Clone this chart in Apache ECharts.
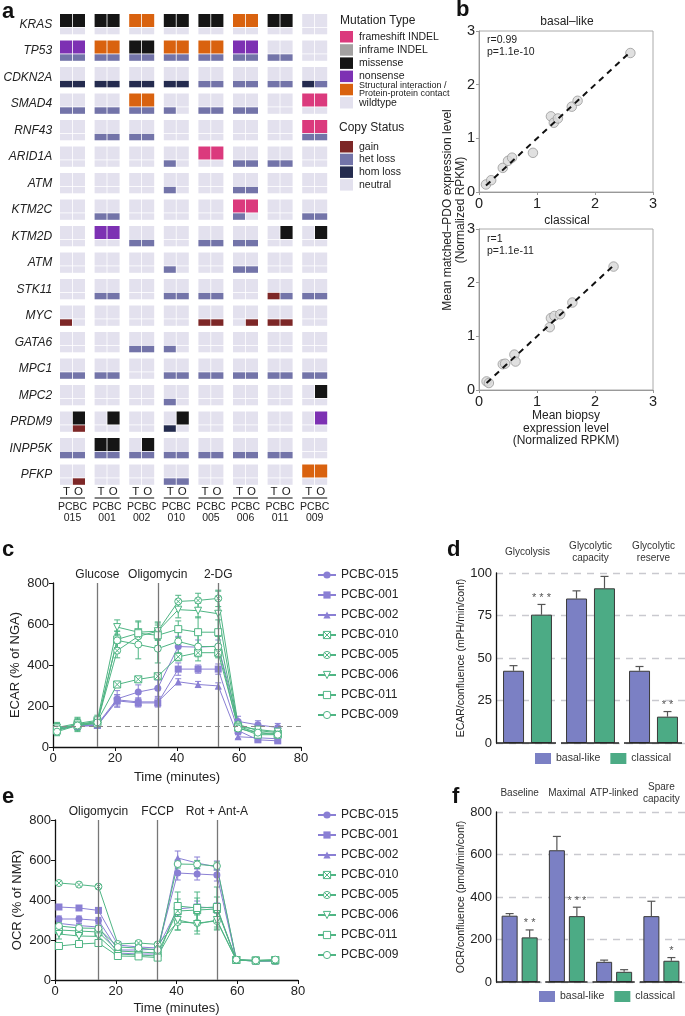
<!DOCTYPE html>
<html><head><meta charset="utf-8">
<script src="https://cdn.jsdelivr.net/npm/echarts@6/dist/echarts.min.js"></script>
<style>html,body{margin:0;padding:0;background:#fff}#c{width:685px;height:1016px}</style>
</head><body><div id="c"></div><script>
const FONT = 'Liberation Sans, Arial, Helvetica, sans-serif';

// ---------- panel a ----------
const genes = ['KRAS','TP53','CDKN2A','SMAD4','RNF43','ARID1A','ATM','KTM2C','KTM2D','ATM','STK11','MYC','GATA6','MPC1','MPC2','PRDM9','INPP5K','PFKP'];
const samples = ['015','001','002','010','005','006','011','009'];
// 16 chars per gene: T,O for each sample. F frameshift, I inframe, M missense, N nonsense, S structural, . wildtype
const mutRows = [
  'MMMMSSMMMMSSMM..',
  'NNSSMMSSSSNN....',
  '................',
  '....SS........FF',
  '..............FF',
  '........FF......',
  '................',
  '..........FF....',
  '..NN.........M.M',
  '................',
  '................',
  '................',
  '................',
  '................',
  '...............M',
  '.M.M...M.......N',
  '..MM.M..........',
  '..............SS'
];
// g gain, h het loss, H hom loss, . neutral
const copyRows = [
  '................',
  'hhhhhhhhhhhhhh..',
  'HHHHHHHHhhhhhhHh',
  'hhhhhhh.hhhh....',
  '..hhhh........hh',
  '......h...hhhh..',
  '......h...hh....',
  '..hh......h...hh',
  '....hh..hhhh....',
  '......h...hh....',
  '..hh..hhhh..ghhh',
  'g.......gg.ggg..',
  '....hhh.........',
  'hhhh..hhhhhhhhhh',
  '......h.........',
  '.g....H.........',
  'hhhhhhhhhhhhhh..',
  '.g....hh........'
];
const mutLegend = ['frameshift INDEL','inframe INDEL','missense','nonsense','Structural interaction /\nProtein-protein contact','wildtype'];
const copyLegend = ['gain','het loss','hom loss','neutral'];

// ---------- panel b ----------
const basalX = [0.12,0.21,0.41,0.50,0.57,0.93,1.24,1.29,1.36,1.60,1.70,2.61];
const basalY = [0.14,0.22,0.45,0.58,0.64,0.73,1.41,1.29,1.37,1.59,1.70,2.59];
const classX = [0.13,0.17,0.41,0.45,0.61,0.63,1.22,1.24,1.30,1.40,1.61,2.32];
const classY = [0.16,0.13,0.48,0.49,0.66,0.53,1.17,1.34,1.38,1.41,1.63,2.30];
const basalFit = [0.12, 2.6];
const classFit = [0.13, 2.32];

// ---------- panels c & e ----------
const time = [1.3, 7.9, 14.3, 20.7, 27.5, 33.8, 40.4, 46.8, 53.3, 59.7, 66.1, 72.5];
const lines = ['PCBC-015','PCBC-001','PCBC-002','PCBC-010','PCBC-005','PCBC-006','PCBC-011','PCBC-009'];
const ecar015 = [85,105,110,235,268,287,490,487,492,125,108,95];
const ecar001 = [85,105,105,225,215,215,380,380,380,80,35,30];
const ecar002 = [95,100,105,230,220,220,318,305,298,50,45,40];
const ecar010 = [80,110,125,305,330,345,440,460,460,100,70,65];
const ecar005 = [90,110,120,470,540,565,710,715,725,110,80,70];
const ecar006 = [95,115,130,585,560,565,670,665,650,100,85,75];
const ecar011 = [85,105,115,525,555,545,575,560,560,95,60,60];
const ecar009 = [75,105,120,520,500,480,515,490,490,90,70,60];
const ecarErr015 = [15,20,15,40,35,40,50,35,30,25,20,20];
const ecarErr001 = [10,15,10,30,20,20,30,20,25,20,10,10];
const ecarErr002 = [10,10,10,25,20,20,15,15,15,10,10,10];
const ecarErr010 = [20,25,20,15,15,15,20,20,25,15,10,10];
const ecarErr005 = [30,35,25,35,30,40,30,35,40,20,20,15];
const ecarErr006 = [20,25,25,35,55,45,40,35,110,25,20,15];
const ecarErr011 = [15,20,20,40,55,50,40,75,60,20,15,15];
const ecarErr009 = [20,25,20,45,70,70,60,70,50,20,15,15];
const ecarEvents = [14.3, 33.8, 53.3];
const ecarEventLabels = ['Glucose','Oligomycin','2-DG'];
const ecarBaseline = 100;

const ocr015 = [305,305,298,150,150,155,535,530,525,100,95,95];
const ocr001 = [365,360,348,175,165,160,355,365,360,100,97,97];
const ocr002 = [283,272,265,135,130,130,610,585,565,100,95,95];
const ocr010 = [250,245,240,145,140,135,345,350,355,100,98,98];
const ocr005 = [485,477,467,180,185,178,290,285,295,100,95,95];
const ocr006 = [230,220,218,130,125,120,300,280,300,100,95,98];
const ocr011 = [170,180,185,120,118,112,370,360,365,100,97,100];
const ocr009 = [270,260,258,165,160,150,580,578,570,102,98,102];
const ocrErr015 = [15,15,15,10,10,10,35,30,30,5,5,5];
const ocrErr001 = [10,10,10,10,10,10,30,30,25,5,5,5];
const ocrErr002 = [10,10,10,10,10,10,35,30,30,5,5,5];
const ocrErr010 = [20,20,20,10,10,10,60,60,60,5,5,5];
const ocrErr005 = [10,10,10,10,10,10,40,40,40,5,5,5];
const ocrErr006 = [25,25,25,10,10,10,50,50,50,5,5,5];
const ocrErr011 = [15,15,15,10,10,10,70,80,100,5,5,5];
const ocrErr009 = [15,15,15,10,10,10,20,20,20,5,5,5];
const ocrEvents = [14.3, 33.8, 53.3];
const ocrEventLabels = ['Oligomycin','FCCP','Rot + Ant-A'];

// ---------- panels d & f ----------
const groupsD = ['Glycolysis','Glycolytic\ncapacity','Glycolytic\nreserve'];
const ecarBasal = [42.5, 85, 42.5];
const ecarClass = [75.5, 91, 15.5];
const ecarBasalErr = [3, 4.5, 2.5];
const ecarClassErr = [6, 7, 3];
const ecarStars = ['* * *', '', '* *'];
const groupsF = ['Baseline','Maximal','ATP-linked','Spare\ncapacity'];
const ocrBasal = [312, 620, 95, 310];
const ocrClass = [210, 310, 48, 100];
const ocrBasalErr = [10, 65, 8, 70];
const ocrClassErr = [35, 42, 10, 15];
const ocrStars = ['* *', '* * *', '', '*'];

// ---------- styles ----------
const mutColors = {F:'#db3a7d', I:'#a3a1a1', M:'#151515', N:'#7d31b3', S:'#d9620f', '.':'#e3e1ee'};
const copyColors = {g:'#7d2727', h:'#7374a9', H:'#242b4e', '.':'#e3e1ee'};
const mutLegendColors = [mutColors.F, mutColors.I, mutColors.M, mutColors.N, mutColors.S, mutColors['.']];
const copyLegendColors = [copyColors.g, copyColors.h, copyColors.H, copyColors['.']];
const PURPLE = '#8a7fd4', GREEN = '#4fb584';
const BAR_B = '#7b80c4', BAR_C = '#4cab85';
const lineColors = [PURPLE,PURPLE,PURPLE,GREEN,GREEN,GREEN,GREEN,GREEN];
const crossSq = 'path://M0,0H10V10H0Z M0,0L10,10 M10,0L0,10';
const crossCirc = 'path://M10,5A5,5,0,1,1,0,5A5,5,0,1,1,10,5Z M1.6,1.6L8.4,8.4 M8.4,1.6L1.6,8.4';
const invTri = 'path://M0,0L10,0L5,9Z';
const openSq = 'path://M0,0H10V10H0Z';
const openCirc = 'path://M10,5A5,5,0,1,1,0,5A5,5,0,1,1,10,5Z';
const symbols = ['circle','rect','triangle',crossSq,crossCirc,invTri,openSq,openCirc];
const filled = [true,true,true,false,false,false,false,false];

const ecarVals = [ecar015,ecar001,ecar002,ecar010,ecar005,ecar006,ecar011,ecar009];
const ecarErrs = [ecarErr015,ecarErr001,ecarErr002,ecarErr010,ecarErr005,ecarErr006,ecarErr011,ecarErr009];
const ocrVals = [ocr015,ocr001,ocr002,ocr010,ocr005,ocr006,ocr011,ocr009];
const ocrErrs = [ocrErr015,ocrErr001,ocrErr002,ocrErr010,ocrErr005,ocrErr006,ocrErr011,ocrErr009];

const chart = echarts.init(document.getElementById('c'));
const txt = (extra) => Object.assign({fontFamily: FONT, color: '#222'}, extra);
const symStyle = (k) => filled[k] ? {color: lineColors[k]} : {color:'#fff', borderColor: lineColors[k], borderWidth:1};

function renderOnco(params, api) {
  const si = api.value(0), gi = api.value(1);
  const c = api.coord([si, gi]);
  const left = c[0] - 12.5, top = c[1] - 10.5;
  const ch = [];
  for (let k = 0; k < 2; k++) {
    const x = left + k * 12.8, w = k === 0 ? 12 : 12.2;
    ch.push({type:'rect', shape:{x:x, y:top, width:w, height:13}, style:{fill: mutColors[mutRows[gi][2*si+k]]}});
    ch.push({type:'rect', shape:{x:x, y:top+13.8, width:w, height:6.5}, style:{fill: copyColors[copyRows[gi][2*si+k]]}});
  }
  return {type:'group', children: ch};
}
function renderSampleLabels(params, api) {
  const si = api.value(0), gi = api.value(1);
  const c = api.coord([si, gi]);
  const base = c[1] + 10.5;
  const t = (s, x, y, fs) => ({type:'text', style:{text:s, x:x, y:y, align:'center', verticalAlign:'middle', fontSize:fs, fontFamily:FONT, fill:'#222'}});
  return {type:'group', children:[
    t('T', c[0]-6, base+6.5, 11.5), t('O', c[0]+6, base+6.5, 11.5),
    {type:'line', shape:{x1:c[0]-12.5, y1:base+12.5, x2:c[0]+12.5, y2:base+12.5}, style:{stroke:'#333', lineWidth:1.2}},
    t('PCBC', c[0], base+22, 10.5), t(samples[si], c[0], base+33, 10.5)
  ]};
}
function makeErrRender(colors) {
  return function(params, api) {
    const x = api.value(0), y = api.value(1), e = api.value(2), s = api.value(3);
    const lo = api.coord([x, y - e]), hi = api.coord([x, y + e]);
    const st = {stroke: colors[s], lineWidth: 1};
    return {type:'group', children:[
      {type:'line', shape:{x1:lo[0], y1:lo[1], x2:hi[0], y2:hi[1]}, style:st},
      {type:'line', shape:{x1:lo[0]-3, y1:lo[1], x2:lo[0]+3, y2:lo[1]}, style:st},
      {type:'line', shape:{x1:hi[0]-3, y1:hi[1], x2:hi[0]+3, y2:hi[1]}, style:st}
    ]};
  };
}
function makeBarErrRender(offset, stars) {
  return function(params, api) {
    const g = api.value(0), v = api.value(1), e = api.value(2), s = api.value(3);
    const base = api.coord([g, v]), top = api.coord([g, v + e]);
    const x = base[0] + (s === 0 ? -offset : offset);
    const st = {stroke:'#555', lineWidth:1.2};
    const ch = [
      {type:'line', shape:{x1:x, y1:base[1], x2:x, y2:top[1]}, style:st},
      {type:'line', shape:{x1:x-4, y1:top[1], x2:x+4, y2:top[1]}, style:st}
    ];
    const star = s === 1 ? stars[g] : '';
    if (star) ch.push({type:'text', style:{text:star, x:x, y:top[1]-1, align:'center', verticalAlign:'bottom', fontSize:11, fontFamily:FONT, fill:'#555'}});
    return {type:'group', children: ch};
  };
}
function renderSeg(params, api) {
  const g = api.value(0);
  const c = api.coord([g, 0]);
  const w = api.size([1, 0])[0];
  const x1 = g === 0 ? c[0] - w/2 : c[0] - w/2 + 2;
  return {type:'line', shape:{x1:x1, y1:c[1], x2:c[0] + w/2 - 3, y2:c[1]}, style:{stroke:'#222', lineWidth:1.5}};
}

const series = [];
// a
series.push({type:'custom', xAxisIndex:0, yAxisIndex:0, clip:false, renderItem: renderOnco,
  data: genes.flatMap((g, gi) => samples.map((s, si) => [si, gi]))});
series.push({type:'custom', xAxisIndex:0, yAxisIndex:0, clip:false, renderItem: renderSampleLabels,
  data: samples.map((s, si) => [si, genes.length - 1])});
// b
const scatterStyle = {color:'#d8d8d8', borderColor:'#9a9a9a', borderWidth:1};
series.push({type:'line', xAxisIndex:1, yAxisIndex:1, data: basalFit.map(v => [v, v]), symbol:'none', lineStyle:{color:'#111', width:2, type:[6,5]}, z:3});
series.push({type:'scatter', xAxisIndex:1, yAxisIndex:1, data: basalX.map((x, i) => [x, basalY[i]]), symbolSize:9.5, itemStyle:scatterStyle, z:2});
series.push({type:'line', xAxisIndex:2, yAxisIndex:2, data: classFit.map(v => [v, v]), symbol:'none', lineStyle:{color:'#111', width:2, type:[6,5]}, z:3});
series.push({type:'scatter', xAxisIndex:2, yAxisIndex:2, data: classX.map((x, i) => [x, classY[i]]), symbolSize:9.5, itemStyle:scatterStyle, z:2});

function lineSeries(vals, xi, yi, events, labels, baseline) {
  vals.forEach((v, k) => {
    const s = {type:'line', name: lines[k], xAxisIndex:xi, yAxisIndex:yi,
      data: time.map((t, i) => [t, v[i]]), symbol: symbols[k], symbolSize: 7,
      lineStyle:{color: lineColors[k], width:1},
      itemStyle: symStyle(k), z: 3};
    if (k === 0) {
      const md = events.map((e, j) => ({xAxis: e, label:{formatter: labels[j]}}));
      if (baseline != null) md.push({yAxis: baseline, lineStyle:{type:[5,4], color:'#888', width:1}, label:{show:false}});
      s.markLine = {silent:true, symbol:'none', animation:false,
        lineStyle:{color:'#777', width:1.3, type:'solid'},
        label:{position:'end', distance:2, fontSize:12, fontFamily:FONT, color:'#222'}, data: md};
    }
    series.push(s);
  });
}
// c
lineSeries(ecarVals, 3, 3, ecarEvents, ecarEventLabels, ecarBaseline);
series.push({type:'custom', xAxisIndex:3, yAxisIndex:3, z:2, renderItem: makeErrRender(lineColors),
  data: ecarVals.flatMap((v, k) => time.map((t, i) => [t, v[i], ecarErrs[k][i], k]))});
// e
lineSeries(ocrVals, 6, 5, ocrEvents, ocrEventLabels, null);
series.push({type:'custom', xAxisIndex:6, yAxisIndex:5, z:2, renderItem: makeErrRender(lineColors),
  data: ocrVals.flatMap((v, k) => time.map((t, i) => [t, v[i], ocrErrs[k][i], k]))});
// d
const barItem = (c) => ({color:c, borderColor:'#3a3a3a', borderWidth:1});
series.push({type:'bar', name:'basal-like', xAxisIndex:4, yAxisIndex:4, data: ecarBasal, barWidth:21, barGap:'33%', itemStyle: barItem(BAR_B)});
series.push({type:'bar', name:'classical', xAxisIndex:4, yAxisIndex:4, data: ecarClass, barWidth:21, barGap:'33%', itemStyle: barItem(BAR_C)});
series.push({type:'custom', xAxisIndex:4, yAxisIndex:4, z:1, clip:false, renderItem: makeBarErrRender(14, ecarStars),
  data: ecarBasal.map((v, i) => [i, v, ecarBasalErr[i], 0]).concat(ecarClass.map((v, i) => [i, v, ecarClassErr[i], 1]))});
series.push({type:'custom', xAxisIndex:4, yAxisIndex:4, z:5, clip:false, renderItem: renderSeg, data: groupsD.map((g, i) => [i, 0])});
// f
series.push({type:'bar', name:'basal-like', xAxisIndex:7, yAxisIndex:6, data: ocrBasal, barWidth:16, barGap:'25%', itemStyle: barItem(BAR_B)});
series.push({type:'bar', name:'classical', xAxisIndex:7, yAxisIndex:6, data: ocrClass, barWidth:16, barGap:'25%', itemStyle: barItem(BAR_C)});
series.push({type:'custom', xAxisIndex:7, yAxisIndex:6, z:1, clip:false, renderItem: makeBarErrRender(10, ocrStars),
  data: ocrBasal.map((v, i) => [i, v, ocrBasalErr[i], 0]).concat(ocrClass.map((v, i) => [i, v, ocrClassErr[i], 1]))});
series.push({type:'custom', xAxisIndex:7, yAxisIndex:6, z:5, clip:false, renderItem: renderSeg, data: groupsF.map((g, i) => [i, 0])});

const hidden = {axisLine:{show:false}, axisTick:{show:false}, axisLabel:{show:false}, splitLine:{show:false}};
const bAxis = (extra) => Object.assign({type:'value', min:0, max:3, interval:1,
  axisLine:{show:true, lineStyle:{color:'#999'}}, axisTick:{show:true, length:3, lineStyle:{color:'#999'}},
  splitLine:{show:false}, axisLabel: txt({fontSize:14.5, margin:4})}, extra);
const lcAxisX = (gi, nameGap) => ({type:'value', gridIndex:gi, min:0, max:80, interval:20,
  axisLine:{lineStyle:{color:'#111', width:1.3}}, axisTick:{length:4, lineStyle:{color:'#111'}},
  splitLine:{show:false}, axisLabel: txt({fontSize:13, margin:5}),
  name:'Time (minutes)', nameLocation:'middle', nameGap: nameGap, nameTextStyle: txt({fontSize:13})});
const lcAxisY = (gi, name) => ({type:'value', gridIndex:gi, min:0, max:800, interval:200,
  axisLine:{show:true, lineStyle:{color:'#111', width:1.3}}, axisTick:{show:true, length:4, lineStyle:{color:'#111'}},
  splitLine:{show:false}, axisLabel: txt({fontSize:13, margin:4}),
  name: name, nameLocation:'middle', nameGap: 31, nameTextStyle: txt({fontSize:13})});
const barY = (gi, max, interval, name) => ({type:'value', gridIndex:gi, min:0, max:max, interval:interval,
  axisLine:{show:true, lineStyle:{color:'#111', width:1.3}}, axisTick:{show:false},
  splitLine:{show:true, lineStyle:{color:'#c9c9cf', width:1.3, type:[7,6]}},
  axisLabel: txt({fontSize:13, margin:4}),
  name: name, nameLocation:'middle', nameGap: 29, nameTextStyle: txt({fontSize:10.5})});
const topTitles = (gi, data, margin) => ({type:'category', gridIndex:gi, position:'top', data:data,
  axisLine:{show:false}, axisTick:{show:false}, splitLine:{show:false},
  axisLabel: txt({fontSize:10, interval:0, margin:margin, verticalAlign:'middle', lineHeight:12, color:'#333'})});
const lineLegendData = lines.map((n, k) => ({name:n, itemStyle: symStyle(k)}));

const graphic = [];
const gText = (s, x, y, style) => graphic.push({type:'text', x:x, y:y, style: Object.assign({text:s, fontFamily:FONT, fill:'#222'}, style)});
// panel letters
[['a',2,12],['b',456,10],['c',2,550],['d',447,550],['e',2,797],['f',452,797]].forEach(p =>
  gText(p[0], p[1], p[2], {fontSize:22, fontWeight:'bold', verticalAlign:'middle', fill:'#111'}));
// a legend
gText('Mutation Type', 340, 21, {fontSize:12, verticalAlign:'middle'});
mutLegend.forEach((m, i) => {
  const y = 31 + i * 13.2;
  graphic.push({type:'rect', shape:{x:340, y:y, width:13, height:11.5}, style:{fill: mutLegendColors[i]}});
  const two = m.indexOf('\n') >= 0;
  gText(m, 359, y + 5.8, {fontSize: two ? 9 : 10.5, verticalAlign:'middle', lineHeight: two ? 8.5 : 12});
});
gText('Copy Status', 339, 128, {fontSize:12, verticalAlign:'middle'});
copyLegend.forEach((m, i) => {
  const y = 141 + i * 12.7;
  graphic.push({type:'rect', shape:{x:340, y:y, width:13, height:11.5}, style:{fill: copyLegendColors[i]}});
  gText(m, 359, y + 5.8, {fontSize:10.5, verticalAlign:'middle'});
});
// b texts
gText('basal\u2013like', 567, 22, {fontSize:12, align:'center', verticalAlign:'middle'});
gText('classical', 567, 221, {fontSize:12, align:'center', verticalAlign:'middle'});
gText('r=0.99', 487, 40, {fontSize:10.5, verticalAlign:'middle'});
gText('p=1.1e-10', 487, 52, {fontSize:10.5, verticalAlign:'middle'});
gText('r=1', 487, 239, {fontSize:10.5, verticalAlign:'middle'});
gText('p=1.1e-11', 487, 251, {fontSize:10.5, verticalAlign:'middle'});
graphic.push({type:'text', x:454, y:210, rotation: Math.PI/2,
  style:{text:'Mean matched\u2013PDO expression level\n(Normalized RPKM)', fontFamily:FONT, fontSize:12, fill:'#222', align:'center', verticalAlign:'middle', lineHeight:13}});

const option = {
  backgroundColor:'#fff',
  animation:false,
  textStyle:{fontFamily: FONT},
  grid: [
    {left:55.2, top:11.25, width:276.8, height:477},
    {left:479, top:31, width:174, height:161, show:true, borderColor:'#aaa', borderWidth:1},
    {left:479, top:229, width:174, height:161, show:true, borderColor:'#aaa', borderWidth:1},
    {left:53, top:583, width:248, height:164},
    {left:496, top:573, width:189, height:170},
    {left:55, top:820, width:243, height:161},
    {left:496, top:812, width:189, height:170}
  ],
  xAxis: [
    Object.assign({type:'category', gridIndex:0, data: samples}, hidden),
    bAxis({gridIndex:1}),
    bAxis({gridIndex:2, name:'Mean biopsy\nexpression level\n(Normalized RPKM)', nameLocation:'middle', nameGap:18,
      nameTextStyle: txt({fontSize:12, lineHeight:12.5, verticalAlign:'top'})}),
    lcAxisX(3, 24),
    Object.assign({type:'category', gridIndex:4, data: groupsD}, hidden),
    topTitles(4, groupsD, 21),
    lcAxisX(5, 22),
    Object.assign({type:'category', gridIndex:6, data: groupsF}, hidden),
    topTitles(6, groupsF, 19)
  ],
  yAxis: [
    {type:'category', gridIndex:0, inverse:true, data: genes.map((g, i) => String(i)),
      axisLine:{show:false}, axisTick:{show:false}, splitLine:{show:false},
      axisLabel: txt({fontSize:12, fontStyle:'italic', margin:3, formatter:(v, i) => genes[i], padding:[0,0,5,0]})},
    bAxis({gridIndex:1}),
    bAxis({gridIndex:2}),
    lcAxisY(3, 'ECAR (% of NGA)'),
    barY(4, 100, 25, 'ECAR/confluence (mPH/min/conf)'),
    lcAxisY(5, 'OCR (% of NMR)'),
    barY(6, 800, 200, 'OCR/confluence (pmol/min/conf)')
  ],
  legend: [
    {orient:'vertical', left:312, top:564, data: lineLegendData, itemWidth:18, itemHeight:9, itemGap:8,
      textStyle: txt({fontSize:12}), selectedMode:false},
    {orient:'vertical', left:312, top:804, data: lineLegendData, itemWidth:18, itemHeight:9, itemGap:8,
      textStyle: txt({fontSize:12}), selectedMode:false},
    {orient:'horizontal', left:530, top:748, data:['basal-like','classical'], icon:'rect', itemWidth:16, itemHeight:11, itemGap:10,
      itemStyle:{borderWidth:0}, textStyle: txt({fontSize:10.5, color:'#333'}), selectedMode:false},
    {orient:'horizontal', left:534, top:986, data:['basal-like','classical'], icon:'rect', itemWidth:16, itemHeight:11, itemGap:10,
      itemStyle:{borderWidth:0}, textStyle: txt({fontSize:10.5, color:'#333'}), selectedMode:false}
  ],
  graphic: graphic,
  series: series
};
chart.setOption(option);
</script></body></html>
